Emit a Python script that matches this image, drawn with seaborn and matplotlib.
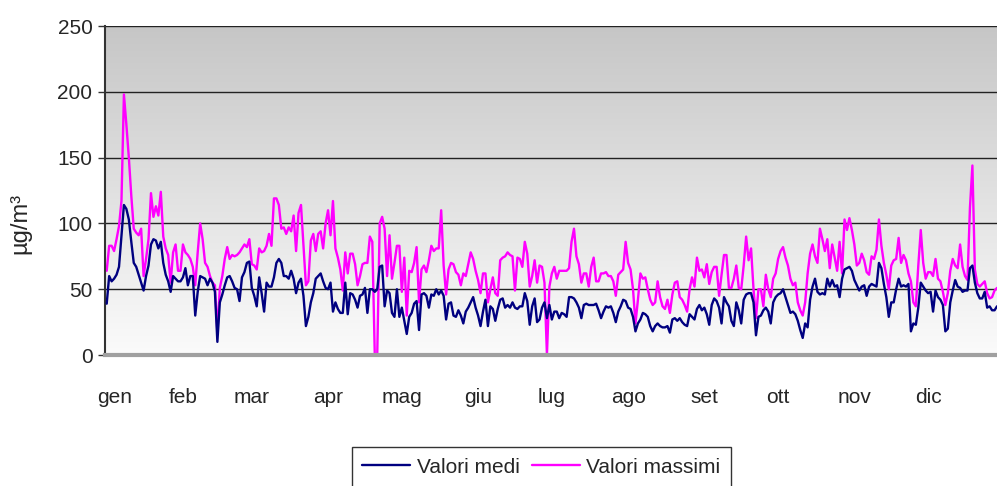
import numpy as np
import pandas as pd
import seaborn as sns
import matplotlib.pyplot as plt
from matplotlib.colors import LinearSegmentedColormap
from matplotlib.transforms import ScaledTranslation

mesi = ["gen", "feb", "mar", "apr", "mag", "giu", "lug", "ago", "set", "ott", "nov", "dic"]
inizio_mese = [0, 31, 59, 90, 120, 151, 181, 212, 243, 273, 304, 334]

valori_medi = [
    39, 60, 56, 58, 61, 67, 90, 114, 111, 103,
    86, 70, 67, 61, 55, 49, 60, 68, 84, 88,
    87, 81, 86, 70, 61, 56, 48, 60, 58, 56,
    56, 59, 66, 53, 60, 60, 30, 48, 60, 59,
    58, 53, 58, 55, 48, 10, 40, 46, 53, 59,
    60, 56, 51, 50, 41, 59, 63, 70, 71, 51,
    45, 37, 59, 47, 33, 55, 52, 52, 59, 70,
    73, 70, 60, 60, 58, 64, 58, 47, 55, 58,
    45, 22, 29, 40, 47, 58, 60, 62, 56, 51,
    50, 55, 33, 40, 35, 32, 32, 55, 31, 47,
    46, 42, 36, 45, 46, 51, 32, 50, 50, 48,
    50, 67, 68, 37, 49, 47, 32, 29, 50, 29,
    36, 26, 16, 29, 32, 39, 41, 19, 46, 47,
    45, 36, 46, 45, 50, 46, 49, 45, 27, 39,
    40, 30, 29, 34, 30, 24, 33, 36, 40, 44,
    36, 30, 22, 33, 42, 22, 37, 35, 26, 35,
    42, 43, 36, 38, 36, 40, 36, 35, 37, 37,
    47, 41, 23, 37, 43, 25, 27, 36, 40, 28,
    38, 27, 33, 33, 28, 32, 31, 29, 44, 44,
    43, 40, 36, 28, 38, 39, 38, 38, 38, 39,
    34, 28, 33, 37, 36, 37, 32, 25, 33, 37,
    42, 41, 36, 35, 29, 18, 24, 27, 32, 31,
    29, 22, 18, 22, 24, 22, 21, 21, 22, 17,
    27, 28, 26, 28, 25, 23, 22, 31, 29, 27,
    35, 38, 34, 36, 31, 23, 38, 43, 41, 36,
    24, 44, 40, 37, 26, 22, 40, 34, 24, 42,
    46, 47, 47, 40, 15, 29, 30, 34, 36, 33,
    24, 40, 44, 46, 47, 50, 44, 38, 32, 33,
    31, 26, 19, 13, 24, 21, 42, 52, 58, 48,
    46, 47, 46, 58, 52, 57, 52, 53, 44, 58,
    65, 66, 67, 64, 57, 53, 49, 52, 53, 45,
    52, 54, 53, 52, 70, 66, 54, 44, 29, 40,
    40, 50, 58, 52, 53, 52, 54, 18, 24, 23,
    36, 55, 52, 49, 47, 48, 33, 49, 44, 42,
    38, 18, 20, 40, 49, 57, 52, 51, 48, 49,
    49, 66, 68, 55, 47, 43, 43, 48, 36, 37,
    34, 34, 37, 35, 36,
]

valori_massimi = [
    64, 83, 83, 79, 88, 98, 117, 198, 175, 150,
    121, 96, 93, 91, 96, 60, 73, 88, 123, 105,
    113, 106, 124, 90, 81, 76, 55, 78, 84, 64,
    64, 84, 78, 76, 73, 67, 53, 78, 100, 88,
    70, 67, 60, 55, 53, 17, 51, 60, 73, 82,
    73, 76, 75, 76, 78, 81, 84, 82, 88, 69,
    68, 65, 81, 78, 79, 83, 92, 83, 119, 119,
    114, 96, 97, 92, 97, 94, 106, 79, 108, 114,
    83, 53, 56, 87, 92, 79, 92, 94, 81, 100,
    110, 91, 117, 81, 74, 65, 49, 78, 62, 77,
    77, 69, 53, 60, 69, 70, 70, 90, 86, 0,
    0, 100, 105, 96, 60, 91, 58, 70, 83, 83,
    48, 74, 30, 64, 63, 70, 82, 40, 65, 68,
    63, 72, 83, 79, 81, 81, 110, 68, 46, 65,
    70, 69, 63, 61, 53, 62, 60, 69, 78, 73,
    64, 57, 47, 62, 62, 40, 50, 59, 47, 45,
    72, 74, 75, 78, 76, 75, 49, 74, 73, 67,
    86, 77, 52, 60, 72, 55, 68, 67, 55, 0,
    52, 62, 67, 58, 64, 64, 64, 64, 66, 86,
    96, 75, 69, 55, 62, 62, 52, 67, 74, 56,
    56, 62, 62, 63, 60, 60, 56, 45, 61, 63,
    65, 86, 70, 65, 50, 24, 42, 62, 58, 59,
    50, 42, 38, 40, 56, 44, 37, 35, 42, 32,
    46, 55, 56, 44, 42, 38, 33, 50, 59, 52,
    74, 64, 65, 59, 69, 54, 63, 67, 67, 45,
    61, 76, 76, 51, 51, 58, 68, 51, 50, 68,
    90, 72, 81, 50, 28, 50, 50, 37, 61, 50,
    44, 58, 62, 73, 79, 82, 74, 68, 58, 53,
    55, 40, 34, 30, 40, 62, 77, 84, 75, 70,
    96, 88, 79, 88, 66, 84, 74, 64, 86, 62,
    103, 95, 104, 95, 84, 68, 70, 77, 72, 63,
    61, 75, 73, 80, 103, 83, 70, 61, 50, 68,
    72, 73, 89, 70, 76, 72, 62, 56, 40, 37,
    68, 95, 70, 58, 63, 63, 60, 73, 58, 56,
    48, 38, 47, 64, 73, 68, 66, 84, 67, 60,
    57, 112, 144, 65, 54, 52, 54, 56, 47, 43,
    44, 49, 51, 50, 50,
]

df = pd.DataFrame({
    "giorno": np.arange(len(valori_medi)),
    "Valori medi": valori_medi,
    "Valori massimi": valori_massimi,
})

sns.set_style("white")
plt.rcParams["font.family"] = ["Liberation Sans", "DejaVu Sans"]

fig = plt.figure(figsize=(9.97, 4.86), dpi=100)
ax = fig.add_axes([0.1053, 0.2695, 0.8947, 0.677])

# sfondo sfumato grigio -> bianco
cmap = LinearSegmentedColormap.from_list("sfondo", ["#fbfbfb", "#c6c6c6"])
ax.imshow(np.linspace(0, 1, 256).reshape(-1, 1), extent=[0, 1, 0, 1], transform=ax.transAxes,
          aspect="auto", cmap=cmap, origin="lower", zorder=0)

for y in [50, 100, 150, 200, 250]:
    ax.axhline(y, color="#222222", lw=1.0, zorder=1)

sns.lineplot(data=df, x="giorno", y="Valori medi", ax=ax, color="#000080", lw=1.7,
             label="Valori medi", zorder=3)
sns.lineplot(data=df, x="giorno", y="Valori massimi", ax=ax, color="#ff00ff", lw=1.7,
             label="Valori massimi", zorder=2)

ax.set_xlim(-0.7, 362)
ax.set_ylim(0, 250)
ax.set_yticks([0, 50, 100, 150, 200, 250])
ax.set_xticks(inizio_mese)
ax.set_xticklabels(mesi)
ax.tick_params(axis="y", labelsize=15, length=5, width=1, color="#333333", pad=4, left=True)
ax.tick_params(axis="x", labelsize=15, length=0, pad=24)
# "gen" leggermente spostato a destra come nell'originale
ax.get_xticklabels()[0].set_transform(ax.get_xticklabels()[0].get_transform()
                                      + ScaledTranslation(0.08, 0, fig.dpi_scale_trans))
ax.set_xlabel("")
ax.set_ylabel("µg/m³", fontsize=17)
ax.yaxis.set_label_coords(-0.083, 0.40)

for s in ["top", "right"]:
    ax.spines[s].set_visible(False)
ax.spines["left"].set_color("#333333")
ax.spines["left"].set_linewidth(1.5)
ax.spines["bottom"].set_color("#a0a0a0")
ax.spines["bottom"].set_linewidth(3)

ax.get_legend().remove()
h, l = ax.get_legend_handles_labels()
leg = fig.legend(h, l, loc="upper center", bbox_to_anchor=(0.543, 0.101), ncol=2, fontsize=15,
                 frameon=True, fancybox=False, edgecolor="black", handlelength=2.3,
                 handletextpad=0.3, columnspacing=0.6, borderpad=0.5)
leg.get_frame().set_linewidth(1.0)

fig.savefig("out.png", dpi=100)
